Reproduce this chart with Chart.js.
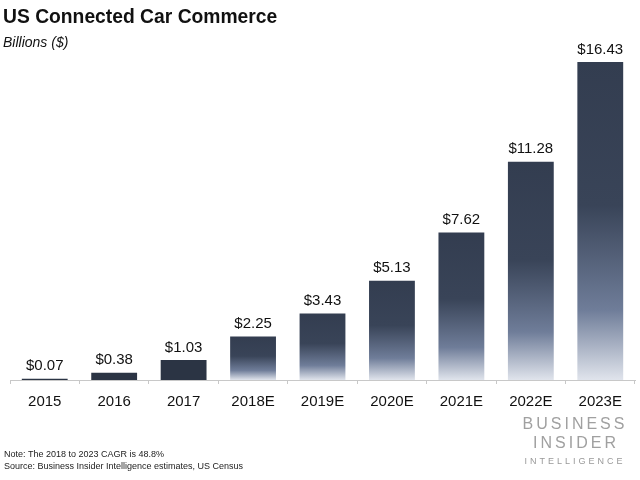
<!DOCTYPE html>
<html lang="en">
<head>
<meta charset="UTF-8">
<title>US Connected Car Commerce</title>
<script src="https://cdn.jsdelivr.net/npm/chart.js"></script>
<style>
  html, body { margin: 0; padding: 0; background: #fff; }
  #wrap { position: relative; width: 640px; height: 480px; }
</style>
</head>
<body>
<div id="wrap"><canvas id="grafico" width="640" height="480"></canvas></div>

<script>
  // dados do gráfico
  const anos = ['2015', '2016', '2017', '2018E', '2019E', '2020E', '2021E', '2022E', '2023E'];
  const valores = [0.07, 0.38, 1.03, 2.25, 3.43, 5.13, 7.62, 11.28, 16.43];
  const estimativa = [false, false, false, true, true, true, true, true, true];

  const titulo = 'US Connected Car Commerce';
  const subtitulo = 'Billions ($)';
  const nota = 'Note: The 2018 to 2023 CAGR is 48.8%';
  const fonte = 'Source: Business Insider Intelligence estimates, US Census';

  const FONTE = "'Liberation Sans', Arial, sans-serif";

  // barras estimadas: escuro no topo, clareando até a base
  function corBarra(context) {
    const chart = context.chart;
    const area = chart.chartArea;
    if (!area) return '#2e3747';
    const i = context.dataIndex;
    if (!estimativa[i]) return '#2b3444';
    const y = chart.scales.y;
    const topo = y.getPixelForValue(valores[i]);
    const base = y.getPixelForValue(0);
    const g = chart.ctx.createLinearGradient(0, topo, 0, base);
    g.addColorStop(0, '#333d50');
    g.addColorStop(0.45, '#394458');
    g.addColorStop(0.78, '#6f7d99');
    g.addColorStop(1, '#e0e4ec');
    return g;
  }

  const textos = {
    id: 'textos',
    afterDraw(chart) {
      const ctx = chart.ctx;
      ctx.save();
      ctx.textBaseline = 'middle';
      ctx.textAlign = 'left';
      ctx.fillStyle = '#111';
      ctx.font = "bold 19.3px " + FONTE;
      ctx.fillText(titulo, 3, 18);
      ctx.font = "italic 14px " + FONTE;
      ctx.fillText(subtitulo, 3, 43);

      // rótulos de valor
      const meta = chart.getDatasetMeta(0);
      ctx.textAlign = 'center';
      ctx.textBaseline = 'bottom';
      ctx.font = "15px " + FONTE;
      ctx.fillStyle = '#111';
      meta.data.forEach((bar, i) => {
        ctx.fillText('$' + valores[i].toFixed(2), bar.x, bar.y - 5);
      });

      // notas
      ctx.textAlign = 'left';
      ctx.textBaseline = 'middle';
      ctx.font = "9px " + FONTE;
      ctx.fillStyle = '#222';
      ctx.fillText(nota, 4, 455);
      ctx.fillText(fonte, 4, 467);

      // logo
      ctx.textAlign = 'center';
      ctx.fillStyle = '#a0a0a0';
      ctx.font = "16px " + FONTE;
      ctx.letterSpacing = '3px';
      ctx.fillText('BUSINESS', 575, 425);
      ctx.fillText('INSIDER', 576, 444);
      ctx.font = "9px " + FONTE;
      ctx.fillStyle = '#999';
      ctx.letterSpacing = '3px';
      ctx.fillText('INTELLIGENCE', 575, 462);
      ctx.restore();
    }
  };

  new Chart(document.getElementById('grafico'), {
    type: 'bar',
    data: {
      labels: anos,
      datasets: [{
        data: valores,
        backgroundColor: corBarra,
        barPercentage: 0.66,
        categoryPercentage: 1
      }]
    },
    options: {
      responsive: false,
      animation: false,
      layout: { padding: { top: 51, left: 10, right: 5, bottom: 60 } },
      plugins: {
        legend: { display: false },
        tooltip: { enabled: false }
      },
      scales: {
        x: {
          grid: {
            display: true,
            drawOnChartArea: false,
            offset: true,
            tickLength: 4,
            color: '#c8c8c8'
          },
          border: { color: '#c8c8c8' },
          ticks: {
            color: '#111',
            font: { family: FONTE, size: 15 },
            padding: 9
          }
        },
        y: {
          display: false,
          min: 0,
          max: 17
        }
      }
    },
    plugins: [textos]
  });
</script>
</body>
</html>
